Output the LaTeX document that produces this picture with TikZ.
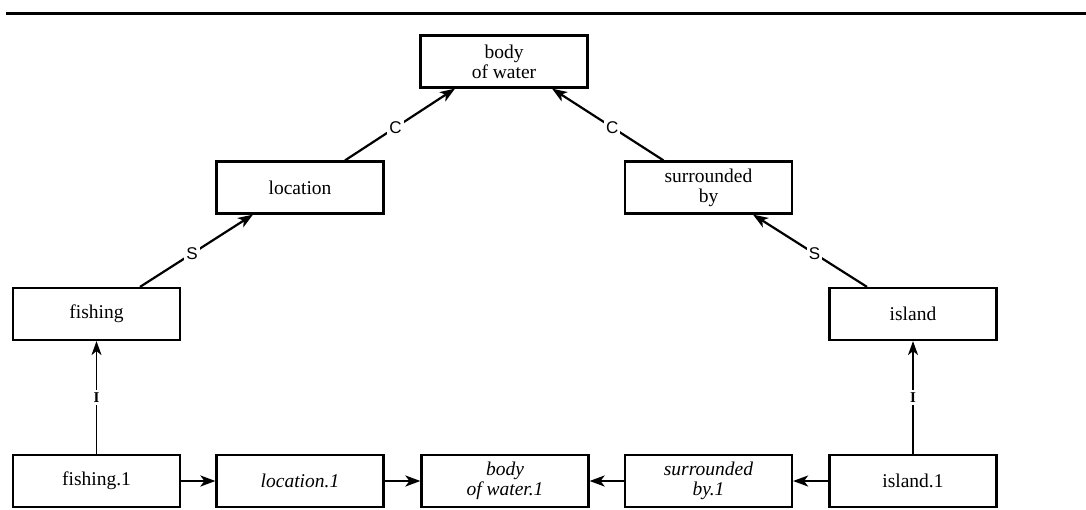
\documentclass[tikz,border=0pt]{standalone}
\usepackage{fontspec}
\setmainfont{Liberation Serif}
\newfontfamily\labelfont{Liberation Sans}
\usetikzlibrary{arrows.meta}

\tikzset{
  concept/.style={draw, line width=2.2pt, minimum width=167pt, minimum height=52pt,
    inner sep=0pt, align=center, font=\fontsize{19.5}{20}\selectfont},
  instance/.style={concept, font=\fontsize{19.5}{20}\selectfont\itshape},
  link/.style={line width=2.2pt, -{Stealth[length=15pt,width=11pt,inset=4pt]}},
  instlink/.style={line width=1.6pt, -{Stealth[length=14pt,width=10pt,inset=4pt]}},
  linklabel/.style={fill=white, inner sep=2pt, font=\labelfont\fontsize{17}{17}\selectfont},
  instlabel/.style={fill=white, inner sep=2.5pt, font=\bfseries\fontsize{15}{15}\selectfont}
}

\begin{document}
\begin{tikzpicture}[x=1pt, y=-1pt]
  \useasboundingbox (0,0) rectangle (1086,509);

  % rule across the top
  \draw[line width=2.6pt] (6,13.5) -- (1086,13.5);

  % concept nodes
  \node[concept] (bw)       at (504,61.5)  {body\\of water};
  \node[concept] (location) at (300,187.5) {location};
  \node[concept] (surr)     at (708.5,187.5) {surrounded\\by};
  \node[concept] (fishing)  at (96.5,314)  {fishing};
  \node[concept] (island)   at (913,314)   {island};

  % instance nodes
  \node[concept]  (fishing1)  at (96.5,481)  {fishing.1};
  \node[instance] (location1) at (300,481)   {location.1};
  \node[instance] (bw1)       at (505,481)   {body\\of water.1};
  \node[instance] (surr1)     at (708.5,481) {surrounded\\by.1};
  \node[concept]  (island1)   at (913,481)   {island.1};

  % C links
  \draw[link] ([xshift=45pt]location.north) -- node[linklabel, pos=0.46] {C} ([xshift=-49pt]bw.south);
  \draw[link] ([xshift=-45pt]surr.north) -- node[linklabel, pos=0.46] {C} ([xshift=48pt]bw.south);

  % S links
  \draw[link] ([xshift=43.5pt]fishing.north) -- node[linklabel, pos=0.46] {S} ([xshift=-47pt]location.south);
  \draw[link] ([xshift=-46pt]island.north) -- node[linklabel, pos=0.46] {S} ([xshift=44.5pt]surr.south);

  % instance-of links
  \draw[instlink] (fishing1.north) -- node[instlabel] {I} (fishing.south);
  \draw[instlink] (island1.north) -- node[instlabel] {I} (island.south);

  % links between instances
  \draw[link] (fishing1.east) -- (location1.west);
  \draw[link] (location1.east) -- (bw1.west);
  \draw[link] (surr1.west) -- (bw1.east);
  \draw[link] (island1.west) -- (surr1.east);
\end{tikzpicture}
\end{document}
